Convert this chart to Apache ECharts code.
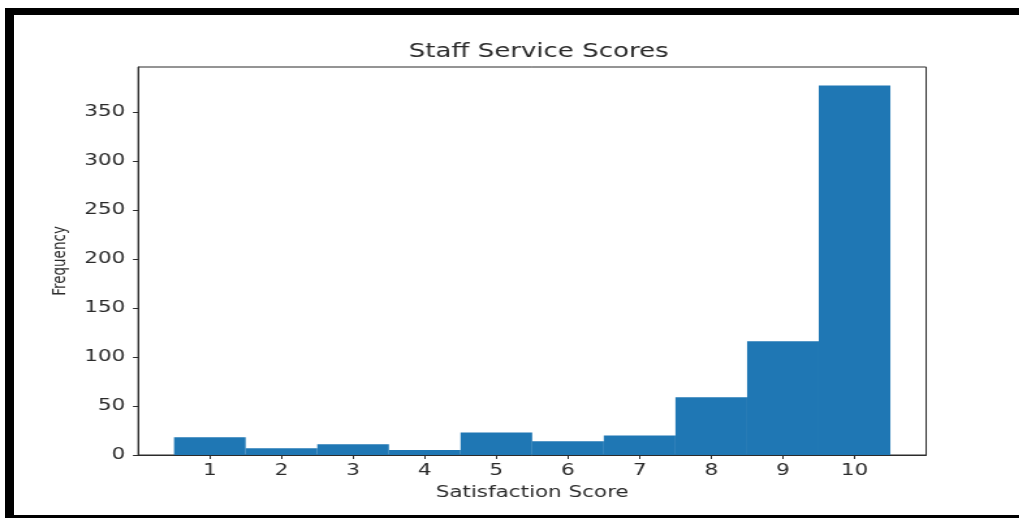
<!DOCTYPE html>
<html>
<head>
<meta charset="utf-8">
<title>Staff Service Scores</title>
<script src="https://cdn.jsdelivr.net/npm/echarts@6/dist/echarts.min.js"></script>
<style>
  html, body { margin: 0; padding: 0; background: #fff; overflow: hidden; }
  #frame { position: absolute; left: 0; top: 0; width: 1019px; height: 518px; overflow: hidden; background: #fff; }
  #chart { position: absolute; left: 0; top: 0; height: 518px; transform-origin: 0 0; }
  #edge {
    position: absolute; left: 5px; top: 8px; right: -20px; bottom: 0;
    border-top: 7px solid #000; border-left: 9px solid #000; border-bottom: 3px solid #000;
    pointer-events: none;
  }
</style>
</head>
<body>
<div id="frame"><div id="chart"></div><div id="edge"></div></div>
<script>
// Histogram of satisfaction scores (one bin per integer score)
const scores = [1, 2, 3, 4, 5, 6, 7, 8, 9, 10];
const frequency = [18, 7, 11, 5, 23, 14, 20, 59, 116, 377];
const yTickValues = [0, 50, 100, 150, 200, 250, 300, 350];
const binWidth = 1;

// The figure is drawn narrow and widened horizontally
const stretch = 1.3;
const pageW = 1019, pageH = 518;
const chartW = pageW / stretch;

const el = document.getElementById('chart');
el.style.width = chartW + 'px';
el.style.transform = 'scaleX(' + stretch + ')';

// Plot box in page pixels
const boxLeft = 138, boxRight = 925, boxTop = 67, boxBottom = 455;
const gridLeft = boxLeft / stretch;
const gridRight = (pageW - boxRight) / stretch;
const plotCenter = (gridLeft + (chartW - gridRight)) / 2;

// 5% data margins, like the usual histogram autoscaling
const lo = scores[0] - binWidth / 2;
const hi = scores[scores.length - 1] + binWidth / 2;
const xPad = (hi - lo) * 0.05;
const yMax = Math.max(...frequency) * 1.05;

const ink = '#2b2b2b';
const font = 'DejaVu Sans';

const chart = echarts.init(el, null, { renderer: 'canvas', width: chartW, height: pageH });

chart.setOption({
  animation: false,
  backgroundColor: '#fff',
  title: {
    text: 'Staff Service Scores',
    left: plotCenter,
    textAlign: 'center',
    top: 37,
    textStyle: { fontFamily: font, fontSize: 20, fontWeight: 'normal', color: ink }
  },
  grid: {
    left: gridLeft, right: gridRight, top: boxTop, bottom: pageH - boxBottom,
    show: true, borderColor: ink, borderWidth: 1, backgroundColor: 'transparent'
  },
  xAxis: {
    type: 'value',
    min: lo - xPad,
    max: hi + xPad,
    name: 'Satisfaction Score',
    nameLocation: 'middle',
    nameGap: 28,
    nameTextStyle: { fontFamily: font, fontSize: 16.5, color: ink },
    splitLine: { show: false },
    axisLine: { show: true, onZero: false, lineStyle: { color: ink, width: 1 } },
    axisTick: { show: true, inside: false, length: 4, customValues: scores, lineStyle: { color: ink } },
    axisLabel: { customValues: scores, margin: 7, fontFamily: font, fontSize: 16.5, color: ink }
  },
  yAxis: {
    type: 'value',
    min: 0,
    max: yMax,
    name: 'Frequency',
    nameLocation: 'middle',
    nameGap: 52,
    nameRotate: 90,
    nameTextStyle: { fontFamily: font, fontSize: 13.5, color: ink },
    splitLine: { show: false },
    axisLine: { show: true, lineStyle: { color: ink, width: 1 } },
    axisTick: { show: true, inside: false, length: 4, customValues: yTickValues, lineStyle: { color: ink } },
    axisLabel: { customValues: yTickValues, margin: 10, fontFamily: font, fontSize: 16.5, color: ink }
  },
  series: [{
    type: 'custom',
    clip: true,
    data: scores.map((s, i) => [s, frequency[i]]),
    renderItem: function (params, api) {
      const c = api.value(0), v = api.value(1);
      const a = api.coord([c - binWidth / 2, 0]);
      const b = api.coord([c + binWidth / 2, v]);
      return {
        type: 'rect',
        shape: { x: a[0], y: b[1], width: b[0] - a[0], height: a[1] - b[1] },
        style: { fill: '#1f77b4' }
      };
    }
  }]
});
</script>
</body>
</html>
